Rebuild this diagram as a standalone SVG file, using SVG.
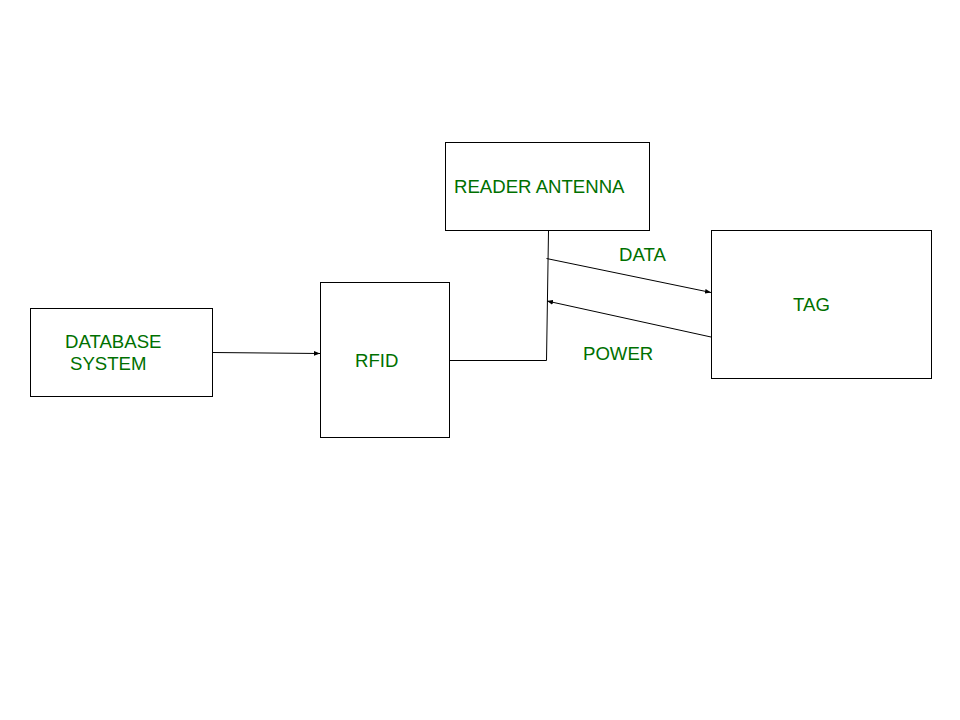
<svg xmlns="http://www.w3.org/2000/svg" width="960" height="720" viewBox="0 0 960 720">
<defs>
<style>
.box{fill:#fff;stroke:#000;stroke-width:1}
.lbl{font-family:"Liberation Sans",Arial,sans-serif;font-size:18.6px;fill:#007000}
.ln{fill:none;stroke:#000;stroke-width:1}
</style>
<marker id="ah" viewBox="0 0 10 10" refX="10" refY="5" markerWidth="6" markerHeight="6" orient="auto" markerUnits="userSpaceOnUse">
<path d="M0,1 L10,5 L0,9 Z" fill="#000"/>
</marker>
</defs>
<rect width="960" height="720" fill="#fff"/>
<g id="database">
<rect class="box" x="30.5" y="308.5" width="182" height="88"/>
<text class="lbl" x="65" y="348">DATABASE</text>
<text class="lbl" x="70" y="370">SYSTEM</text>
</g>
<g id="rfid">
<rect class="box" x="320.5" y="282.5" width="129" height="155"/>
<text class="lbl" x="355" y="367">RFID</text>
</g>
<g id="reader">
<rect class="box" x="445.5" y="142.5" width="204" height="88"/>
<text class="lbl" x="454" y="193">READER ANTENNA</text>
</g>
<g id="tag">
<rect class="box" x="711.5" y="230.5" width="220" height="148"/>
<text class="lbl" x="793" y="311">TAG</text>
</g>
<g id="connectors">
<path class="ln" d="M212.5,352.5 L320,353.5" marker-end="url(#ah)"/>
<path class="ln" d="M449.5,360.5 L546.5,360.5 L548.5,231"/>
<path class="ln" d="M546.5,258.5 L711,292.5" marker-end="url(#ah)"/>
<path class="ln" d="M711,337 L547,301" marker-end="url(#ah)"/>
<text class="lbl" x="619" y="261">DATA</text>
<text class="lbl" x="583" y="360">POWER</text>
</g>
</svg>
